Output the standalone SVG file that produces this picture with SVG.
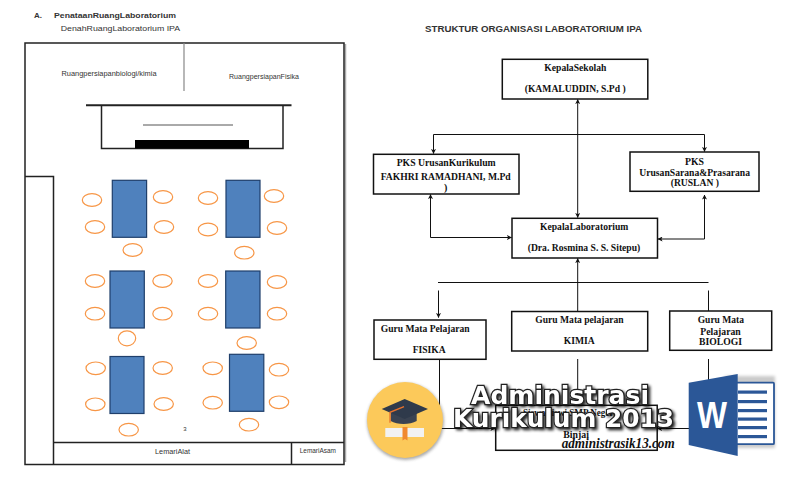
<svg xmlns="http://www.w3.org/2000/svg" width="800" height="480" viewBox="0 0 800 480">
<defs>
<style>
.sans{font-family:"Liberation Sans",Arial,sans-serif;fill:#333}
.ser{font-family:"Liberation Serif","Times New Roman",serif;font-weight:bold;font-size:10px;fill:#111}
.wall{fill:none;stroke:#222;stroke-width:1.5}
.tbl{fill:#4f81bd;stroke:#1f3f6b;stroke-width:1.2}
.ch{fill:#fff;stroke:#f79646;stroke-width:1.2}
.box{fill:#fff;stroke:#111;stroke-width:1.5}
.ln{fill:none;stroke:#111;stroke-width:1}
.lab{font-size:7.5px}
.ov{font-family:"DejaVu Sans",sans-serif;font-weight:bold;fill:#fff;stroke:#222;stroke-width:2.4;paint-order:stroke;filter:url(#shadow)}
</style>
<marker id="a" viewBox="0 0 6 6" refX="5.5" refY="3" markerWidth="5" markerHeight="5" orient="auto-start-reverse" markerUnits="userSpaceOnUse"><path d="M0 0L6 3L0 6L1.5 3Z" fill="#111"/></marker>
<filter id="shadow" x="-10%" y="-40%" width="120%" height="180%"><feGaussianBlur in="SourceAlpha" stdDeviation="1.6"/><feOffset dx="1.500" dy="1.500"/><feComponentTransfer><feFuncA type="linear" slope=".85"/></feComponentTransfer><feMerge><feMergeNode/><feMergeNode in="SourceGraphic"/></feMerge></filter>
<filter id="soft" x="-10%" y="-10%" width="120%" height="120%"><feGaussianBlur stdDeviation="1.5"/></filter>
</defs>
<rect width="800" height="480" fill="#fff"/>
<text class="sans" x="34" y="17.500" font-size="8" font-weight="bold">A.</text>
<text class="sans" x="54" y="17.500" font-size="8" font-weight="bold" textLength="122" lengthAdjust="spacingAndGlyphs">PenataanRuangLaboratorium</text>
<text class="sans" x="60.700" y="31" font-size="8" textLength="119.500" lengthAdjust="spacingAndGlyphs">DenahRuangLaboratorium IPA</text>
<g id="plan">
<path d="M345.500 44V462" fill="none" stroke="#aaa" stroke-width="1.500"/>
<rect class="wall" x="25" y="43" width="319" height="421.500"/>
<path d="M184 43V91" fill="none" stroke="#888" stroke-width="1.200"/>
<text class="sans lab" x="61.500" y="76" textLength="95" lengthAdjust="spacingAndGlyphs">Ruangpersiapanbiologi/kimia</text>
<text class="sans lab" x="229" y="79" textLength="70" lengthAdjust="spacingAndGlyphs">RuangpersiapanFisika</text>
<path d="M86 105.300H291.500" fill="none" stroke="#222" stroke-width="2"/>
<path class="wall" d="M101.500 105V148.500H283V105"/>
<path d="M143 125H233" fill="none" stroke="#555" stroke-width="1"/>
<rect x="135" y="140" width="114" height="8.500" fill="#000"/>
<path class="wall" d="M25 176.500H53.500V464.500"/>
<path class="wall" d="M53.500 442.500H344M291.500 442.500V464.500"/>
<text class="sans lab" x="155" y="453.500" textLength="35" lengthAdjust="spacingAndGlyphs">LemariAlat</text>
<text class="sans" x="299.700" y="452.500" font-size="6.500" textLength="36.300" lengthAdjust="spacingAndGlyphs">LemariAsam</text>
<text class="sans" x="185" y="431" text-anchor="middle" font-size="6">3</text>
</g>
<g id="tables">
<rect class="tbl" x="112.300" y="180.300" width="34.300" height="57"/>
<rect class="tbl" x="226" y="180.300" width="34" height="57"/>
<rect class="tbl" x="110" y="271" width="34.300" height="57"/>
<rect class="tbl" x="225.700" y="271" width="34.300" height="57"/>
<rect class="tbl" x="110" y="356.500" width="34" height="57"/>
<rect class="tbl" x="229.500" y="354.300" width="34.300" height="57"/>
</g>
<g id="chairs">
<ellipse class="ch" cx="92" cy="200" rx="9.700" ry="6.300"/>
<ellipse class="ch" cx="163" cy="197" rx="9.700" ry="6.300"/>
<ellipse class="ch" cx="95" cy="227" rx="9.700" ry="6.300"/>
<ellipse class="ch" cx="164" cy="227" rx="9.700" ry="6.300"/>
<ellipse class="ch" cx="208" cy="198" rx="9.700" ry="6.300"/>
<ellipse class="ch" cx="274" cy="196" rx="9.700" ry="6.300"/>
<ellipse class="ch" cx="208" cy="229.500" rx="9.700" ry="6.300"/>
<ellipse class="ch" cx="277" cy="228" rx="9.700" ry="6.300"/>
<ellipse class="ch" cx="132.700" cy="250" rx="9.700" ry="6.300"/>
<ellipse class="ch" cx="244.300" cy="252.700" rx="9.700" ry="6.300"/>
<ellipse class="ch" cx="95" cy="281" rx="9.700" ry="6.300"/>
<ellipse class="ch" cx="162.500" cy="281" rx="9.700" ry="6.300"/>
<ellipse class="ch" cx="208" cy="281" rx="9.700" ry="6.300"/>
<ellipse class="ch" cx="277" cy="282" rx="9.700" ry="6.300"/>
<ellipse class="ch" cx="95" cy="313.700" rx="9.700" ry="6.300"/>
<ellipse class="ch" cx="162.500" cy="313.700" rx="9.700" ry="6.300"/>
<ellipse class="ch" cx="208" cy="313.700" rx="9.700" ry="6.300"/>
<ellipse class="ch" cx="277" cy="313.700" rx="9.700" ry="6.300"/>
<ellipse class="ch" cx="127" cy="338.300" rx="8.700" ry="7.500"/>
<ellipse class="ch" cx="246.700" cy="343" rx="9.700" ry="6.300"/>
<ellipse class="ch" cx="95.700" cy="368.300" rx="9.700" ry="6.300"/>
<ellipse class="ch" cx="162.700" cy="368" rx="9.700" ry="6.300"/>
<ellipse class="ch" cx="212.700" cy="368.300" rx="9.700" ry="6.300"/>
<ellipse class="ch" cx="279" cy="369.700" rx="9.700" ry="6.300"/>
<ellipse class="ch" cx="95.300" cy="404.300" rx="9.700" ry="6.300"/>
<ellipse class="ch" cx="163.700" cy="404" rx="9.700" ry="6.300"/>
<ellipse class="ch" cx="212.700" cy="402.700" rx="9.700" ry="6.300"/>
<ellipse class="ch" cx="279" cy="402.300" rx="9.700" ry="6.300"/>
<ellipse class="ch" cx="128.700" cy="429.700" rx="9.700" ry="6.300"/>
<ellipse class="ch" cx="249" cy="424.700" rx="9.700" ry="6.300"/>
</g>
<text class="sans" x="425" y="31.500" font-size="9.500" font-weight="bold" textLength="217" lengthAdjust="spacingAndGlyphs">STRUKTUR ORGANISASI LABORATORIUM IPA</text>
<g id="connectors">
<path class="ln" d="M577.700 99.500V217.500" marker-start="url(#a)" marker-end="url(#a)"/>
<path class="ln" d="M433.500 153.500V134.500H704.500V151.500" marker-start="url(#a)" marker-end="url(#a)"/>
<path class="ln" d="M430.500 194.500V237.500H511.500" marker-start="url(#a)" marker-end="url(#a)"/>
<path class="ln" d="M704.500 195V239H658" marker-start="url(#a)" marker-end="url(#a)"/>
<path class="ln" d="M577.700 258.500V311" marker-start="url(#a)"/>
<path class="ln" d="M438 282.500H708.500"/>
<path class="ln" d="M438.500 290.500V317.500" marker-end="url(#a)"/>
<path class="ln" d="M708.500 290.500V311"/>
<path class="ln" d="M439.500 359.500V428.500H495" marker-end="url(#a)"/>
<path class="ln" d="M577.700 359V405"/>
<path class="ln" d="M708.500 359V428.500H657.500" marker-end="url(#a)"/>
</g>
<g id="kepala-sekolah"><rect class="box" x="502.300" y="59.300" width="145.500" height="39.700"/>
<text class="ser" x="544.300" y="71" textLength="62" lengthAdjust="spacingAndGlyphs">KepalaSekolah</text><text class="ser" x="524.700" y="92" textLength="101" lengthAdjust="spacingAndGlyphs">(KAMALUDDIN, S.Pd )</text></g>
<g id="pks-kurikulum"><rect class="box" x="373.500" y="154.300" width="145.500" height="39.700"/>
<text class="ser" x="396.700" y="166" textLength="99" lengthAdjust="spacingAndGlyphs">PKS UrusanKurikulum</text><text class="ser" x="380.700" y="180" textLength="130" lengthAdjust="spacingAndGlyphs">FAKHRI RAMADHANI, M.Pd</text><text class="ser" x="444" y="191">)</text></g>
<g id="pks-sarana"><rect class="box" x="630" y="152" width="129" height="39.300"/>
<text class="ser" x="685" y="165" textLength="19" lengthAdjust="spacingAndGlyphs">PKS</text><text class="ser" x="639.300" y="176" textLength="110.700" lengthAdjust="spacingAndGlyphs">UrusanSarana&amp;Prasarana</text><text class="ser" x="670.700" y="186" textLength="48.300" lengthAdjust="spacingAndGlyphs">(RUSLAN )</text></g>
<g id="kepala-lab"><rect class="box" x="512" y="218.300" width="145.500" height="39.700"/>
<text class="ser" x="540" y="230" textLength="88.300" lengthAdjust="spacingAndGlyphs">KepalaLaboratorium</text><text class="ser" x="527.700" y="251" textLength="112.600" lengthAdjust="spacingAndGlyphs">(Dra. Rosmina S. S. Sitepu)</text></g>
<g id="guru-fisika"><rect class="box" x="374" y="320" width="112" height="39.300"/>
<text class="ser" x="380.700" y="332" textLength="89" lengthAdjust="spacingAndGlyphs">Guru Mata Pelajaran</text><text class="ser" x="412.700" y="352.700" textLength="33" lengthAdjust="spacingAndGlyphs">FISIKA</text></g>
<g id="guru-kimia"><rect class="box" x="511.700" y="311.500" width="136" height="39.500"/>
<text class="ser" x="535.300" y="323" textLength="88.400" lengthAdjust="spacingAndGlyphs">Guru Mata pelajaran</text><text class="ser" x="563.700" y="343.700" textLength="31" lengthAdjust="spacingAndGlyphs">KIMIA</text></g>
<g id="guru-biologi"><rect class="box" x="669.700" y="311" width="102" height="39.300"/>
<text class="ser" x="697.700" y="323" textLength="46.300" lengthAdjust="spacingAndGlyphs">Guru Mata</text><text class="ser" x="700.300" y="334.700" textLength="40.400" lengthAdjust="spacingAndGlyphs">Pelajaran</text><text class="ser" x="699" y="345" textLength="43" lengthAdjust="spacingAndGlyphs">BIOLOGI</text></g>
<g id="sekolah"><rect class="box" x="495.700" y="405.300" width="161.500" height="45"/>
<text class="ser" x="523" y="416" textLength="93" lengthAdjust="spacingAndGlyphs">Siswa-siswi SMP Negeri</text><text class="ser" x="563.300" y="437.700" textLength="25.700" lengthAdjust="spacingAndGlyphs">Binjai</text></g>
<g id="badge">
<circle cx="405.500" cy="421.500" r="38.500" fill="#444" opacity=".45" filter="url(#soft)"/>
<circle cx="405" cy="420" r="38" fill="#fcc95a"/>
<path d="M390.700 410V421C397 425 410 425 416.700 421V410Z" fill="#3a4352"/>
<path d="M381.700 409L404.700 399L428 409L404.700 419Z" fill="#2f3a4b"/>
<path d="M404 406.700L390 412.300V422.700" stroke="#e8722c" stroke-width="1.300" fill="none"/>
<rect x="385.300" y="428" width="38.700" height="9" fill="#f2f2f2"/>
<path d="M402.500 427H407.500L407.500 436L407.500 440.500L405 439L402.500 440.500Z" fill="#f0892f"/>
</g>
<g id="word">
<rect x="725" y="376" width="50" height="72" fill="#555" opacity=".3" filter="url(#soft)"/>
<rect x="733" y="382.700" width="41" height="61.500" fill="#fff" stroke="#2b5797" stroke-width="1.800" rx="1"/>
<g fill="#2b5797"><rect x="738" y="390.500" width="29" height="3.200"/><rect x="738" y="400" width="29" height="3.200"/><rect x="738" y="409" width="29" height="3.200"/><rect x="738" y="417.500" width="29" height="3.200"/><rect x="738" y="426" width="29" height="3.200"/><rect x="738" y="435" width="29" height="3.200"/></g>
<path d="M688.700 382.700L737.700 374V456L688.700 445Z" fill="#2b5797"/>
<text x="697" y="428" font-family="Liberation Sans,Arial,sans-serif" font-weight="bold" font-size="36" fill="#fff" textLength="30" lengthAdjust="spacingAndGlyphs">W</text>
</g>
<g id="overlay">
<text class="ov" x="471" y="404" font-size="24" textLength="178" lengthAdjust="spacingAndGlyphs">Administrasi</text>
<text class="ov" x="453" y="427" font-size="25" textLength="221" lengthAdjust="spacingAndGlyphs">Kurikulum 2013</text>
<text x="561.700" y="448" font-family="Liberation Serif,serif" font-style="italic" font-weight="bold" font-size="14" fill="#111" textLength="113" lengthAdjust="spacingAndGlyphs">administrasik13.com</text>
</g>
</svg>
